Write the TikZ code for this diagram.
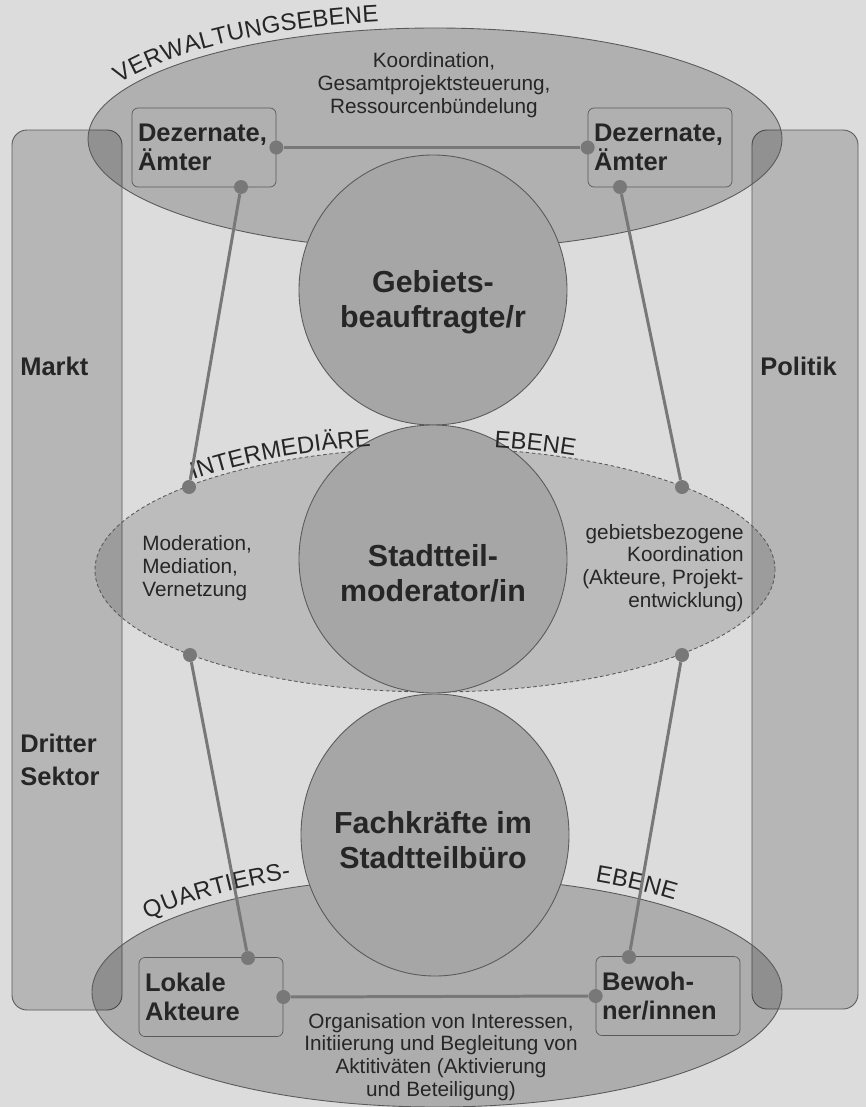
\documentclass[tikz,border=0pt]{standalone}
\usepackage{fontspec}
\setmainfont{Liberation Sans}
\usetikzlibrary{positioning,shapes.geometric,decorations.text}
\definecolor{paper}{HTML}{DCDCDC}
\definecolor{ink}{HTML}{262626}
\definecolor{linkgray}{HTML}{787878}
\definecolor{rimgray}{HTML}{5A5A5A}
\definecolor{discgray}{HTML}{A6A6A6}
\newcommand{\curvefont}{\fontsize{13.6}{13.6}\selectfont\color{ink}}
\tikzset{
     sector bar/.style={draw=rimgray, fill=black, fill opacity=0.17, rounded corners=3mm, line width=0.5pt},
     level area/.style={draw=rimgray, fill=black, fill opacity=#1, line width=0.5pt},
     level area/.default=0.2,
     disc/.style={draw=rimgray, fill=discgray, line width=0.5pt},
     actor box/.style={draw=rimgray, rounded corners=1.2mm, minimum width=28.8mm, minimum height=15.8mm,
        inner xsep=1.2mm, text width=26.4mm, align=left, text=ink,
        font=\fontsize{14.5}{16.5}\selectfont\bfseries},
     link dot/.style={circle, fill=linkgray, inner sep=0pt, minimum size=2.8mm},
     linkedge/.style={linkgray, line width=1.7pt},
     task text/.style={inner sep=0pt, text=ink, font=\fontsize{11.8}{13}\selectfont},
     role text/.style={inner sep=0pt, text=ink, align=center, font=\fontsize{17.3}{19.8}\selectfont\bfseries},
     bar text/.style={inner sep=0pt, text=ink, align=left, anchor=west, font=\fontsize{14.5}{18.7}\selectfont\bfseries},
     level name/.style args={#1:#2}{decorate, decoration={text along path, text align=left, raise=#2, text={|\curvefont|#1}}},
    }

\begin{document}
\begin{tikzpicture}[x=0.2mm, y=0.2mm]
            \fill[paper] (0,0) rectangle (866,-1107);
            \useasboundingbox (0,0) rectangle (866,-1107);

            \coordinate (top) at (435,-139);
            \coordinate (mid) at (435,-570);
            \coordinate (bot) at (437,-992);

            \draw[sector bar] (12,-130) rectangle (122,-1010);
            \draw[sector bar] (752,-130) rectangle (858,-1009);

            \draw[level area] (top) ellipse [x radius=347, y radius=111];
            \draw[level area=0.14, dashed, dash pattern=on 2pt off 1.5pt] (mid) ellipse [x radius=340, y radius=122];
            \draw[level area=0.21] (bot) ellipse [x radius=345, y radius=115];

            \draw[disc] (433,-290) ellipse [x radius=134, y radius=135];
            \draw[disc] (433,-559) ellipse [x radius=134, y radius=134];
            \draw[disc] (435,-835) ellipse [x radius=134, y radius=141];

            \path[level name={VERWALTUNGSEBENE:1.5mm}] (top) ++(154:347 and 111) arc[start angle=154, end angle=60, x radius=347, y radius=111];
            \path[level name={INTERMEDIÄRE:0.8mm}] (mid) ++(135:340 and 122) arc[start angle=135, end angle=95, x radius=340, y radius=122];
            \path[level name={EBENE:0.5mm}] (mid) ++(80:340 and 122) arc[start angle=80, end angle=40, x radius=340, y radius=122];
            \path[level name={QUARTIERS-:1.8mm}] (bot) ++(146:345 and 115) arc[start angle=146, end angle=95, x radius=345, y radius=115];
            \path[level name={EBENE:1.6mm}] (bot) ++(63:345 and 115) arc[start angle=63, end angle=20, x radius=345, y radius=115];

            \node [actor box] (amtL) at (204,-147.5)  {Dezernate,\\Ämter};
            \node [actor box] (amtR) at (660,-147.5)  {Dezernate,\\Ämter};
            \node [actor box] (lokal) at (211,-997)   {Lokale\\Akteure};
            \node [actor box] (bewohner) at (668,-996) {Bewoh-\\ner/innen};

            \node [link dot] (amtLr) at (amtL.east)  {};
            \node [link dot] (amtRl) at (amtR.west)  {};
            \node [link dot] (amtLb) at (241,-187)   {};
            \node [link dot] (amtRb) at (620,-187)   {};
            \node [link dot] (midLt) at (189,-487)   {};
            \node [link dot] (midRt) at (682,-487)   {};
            \node [link dot] (midLb) at (190,-655)   {};
            \node [link dot] (midRb) at (682,-655)   {};
            \node [link dot] (lokalt) at (248,-958)  {};
            \node [link dot] (bewt) at (629,-957)    {};
            \node [link dot] (lokalr) at (lokal.east) {};
            \node [link dot] (bewl) at (bewohner.west) {};

            \draw[linkedge] (amtLr) -- (amtRl);
            \draw[linkedge] (amtLb) -- (midLt);
            \draw[linkedge] (amtRb) -- (midRt);
            \draw[linkedge] (midLb) -- (lokalt);
            \draw[linkedge] (midRb) -- (bewt);
            \draw[linkedge] (lokalr) -- (bewl);

            \node [task text, align=center] (steuer) at (434,-85) {Koordination,\\Gesamtprojektsteuerung,\\Ressourcenbündelung};
            \node [task text, align=left, anchor=west] (moder) at (142,-568) {Moderation,\\Mediation,\\Vernetzung};
            \node [task text, align=right, anchor=east] (gebiet) at (744,-568) {gebietsbezogene\\Koordination\\(Akteure, Projekt-\\entwicklung)};
            \node [task text, align=center] (aktiv) at (441,-1057) {Organisation von Interessen,\\Initiierung und Begleitung von\\Aktitiväten (Aktivierung\\und Beteiligung)};

            \node [role text] (beauftragt) at (433,-302) {Gebiets-\\beauftragte/r};
            \node [role text] (moderator) at (433,-573) {Stadtteil-\\moderator/in};
            \node [role text] (fachkraft) at (433,-840) {Fachkräfte im\\Stadtteilbüro};

            \node [bar text] (markt) at (20,-366)   {Markt};
            \node [bar text] (sektor) at (20,-760)  {Dritter\\Sektor};
            \node [bar text] (politik) at (760,-366) {Politik};
      \end{tikzpicture}
\end{document}
